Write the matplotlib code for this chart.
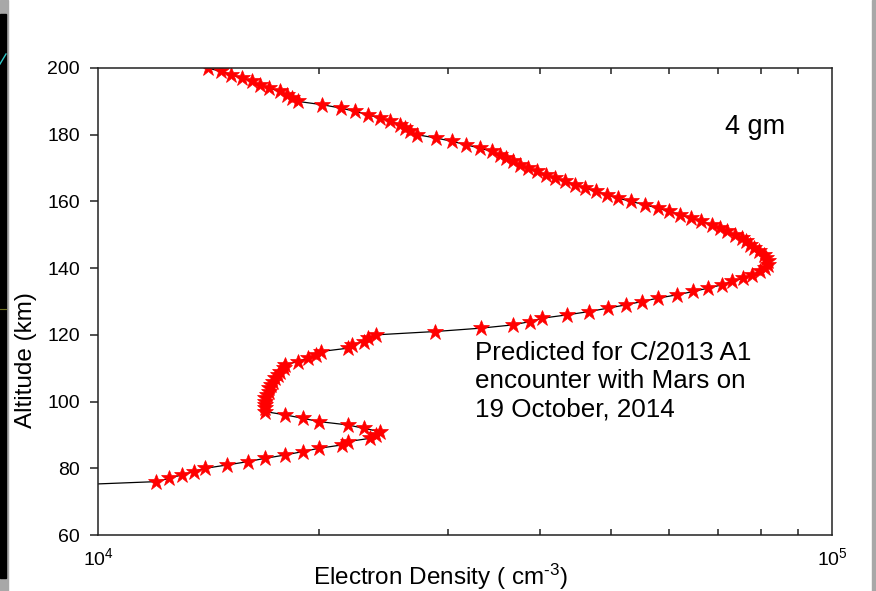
import numpy as np
import matplotlib.pyplot as plt
from matplotlib.patches import Rectangle
from matplotlib.lines import Line2D
from matplotlib.ticker import NullFormatter, LogLocator

plt.rcParams['font.family'] = ['Liberation Sans', 'DejaVu Sans']
plt.rcParams['mathtext.fontset'] = 'custom'
plt.rcParams['mathtext.rm'] = 'Liberation Sans'
plt.rcParams['mathtext.it'] = 'Liberation Sans:italic'
plt.rcParams['mathtext.bf'] = 'Liberation Sans:bold'

# altitude grid (km) and electron density (units of 1e4 cm^-3)
altitude_km = [
    75, 76, 77, 78, 79, 80, 81, 82, 83, 84,
    85, 86, 87, 88, 89, 90, 91, 92, 93, 94,
    95, 96, 97, 98, 99, 100, 101, 102, 103, 104,
    105, 106, 107, 108, 109, 110, 111, 112, 113, 114,
    115, 116, 117, 118, 119, 120, 121, 122, 123, 124,
    125, 126, 127, 128, 129, 130, 131, 132, 133, 134,
    135, 136, 137, 138, 139, 140, 141, 142, 143, 144,
    145, 146, 147, 148, 149, 150, 151, 152, 153, 154,
    155, 156, 157, 158, 159, 160, 161, 162, 163, 164,
    165, 166, 167, 168, 169, 170, 171, 172, 173, 174,
    175, 176, 177, 178, 179, 180, 181, 182, 183, 184,
    185, 186, 187, 188, 189, 190, 191, 192, 193, 194,
    195, 196, 197, 198, 199, 200,
]
density_e4 = [
    0.92, 1.20, 1.25, 1.30, 1.35, 1.40, 1.50, 1.60, 1.69, 1.80,
    1.90, 2.00, 2.15, 2.19, 2.35, 2.39, 2.42, 2.30, 2.19, 2.00,
    1.90, 1.80, 1.69, 1.69, 1.69, 1.69, 1.69, 1.70, 1.71, 1.71,
    1.72, 1.73, 1.74, 1.76, 1.77, 1.79, 1.80, 1.87, 1.93, 1.98,
    2.01, 2.19, 2.22, 2.30, 2.33, 2.39, 2.88, 3.32, 3.68, 3.88,
    4.03, 4.36, 4.67, 4.95, 5.24, 5.51, 5.79, 6.15, 6.47, 6.78,
    7.08, 7.31, 7.56, 7.78, 7.98, 8.10, 8.18, 8.18, 8.13, 8.08,
    7.95, 7.83, 7.73, 7.64, 7.54, 7.38, 7.19, 7.04, 6.86, 6.63,
    6.43, 6.21, 6.00, 5.79, 5.56, 5.32, 5.11, 4.94, 4.77, 4.61,
    4.47, 4.33, 4.19, 4.08, 3.96, 3.85, 3.76, 3.68, 3.60, 3.53,
    3.44, 3.31, 3.17, 3.04, 2.89, 2.72, 2.66, 2.62, 2.58, 2.50,
    2.42, 2.33, 2.24, 2.14, 2.02, 1.87, 1.84, 1.81, 1.77, 1.71,
    1.66, 1.62, 1.57, 1.52, 1.47, 1.41,
]

density = np.array(density_e4) * 1e4

W, H = 876, 591
fig = plt.figure(figsize=(W / 100, H / 100), dpi=100)
ax = fig.add_axes([98 / W, 1 - 535 / H, 734 / W, 467 / H])

ax.plot(density, altitude_km, color='black', lw=0.9,
        marker='*', ms=12, mfc='red', mec='red', mew=0.5)

ax.set_xscale('log')
ax.set_xlim(1e4, 1e5)
ax.set_ylim(60, 200)
ax.set_yticks(range(60, 201, 20))
ax.xaxis.set_minor_locator(LogLocator(base=10, subs=range(2, 10)))
ax.xaxis.set_minor_formatter(NullFormatter())

for side in ['left', 'bottom', 'top', 'right']:
    ax.spines[side].set_linewidth(1.1)
    ax.spines[side].set_color('#222222')

ax.tick_params(axis='y', which='major', direction='out', length=6, width=1.1,
               labelsize=14, pad=7, right=False, color='#222222')
ax.tick_params(axis='x', which='both', direction='in', top=True, bottom=True,
               width=1.1, color='#222222')
ax.tick_params(axis='x', which='major', length=0, labelsize=14, pad=9)
ax.tick_params(axis='x', which='minor', length=4.5)

ax.set_xlabel(r'Electron Density ( cm$^{\text{-}3}$)', fontsize=17.5)
ax.xaxis.set_label_coords((440 - 98) / 734, -0.057)
ax.set_ylabel('Altitude (km)', fontsize=17.5)
ax.yaxis.set_label_coords(-0.083, (535 - 360) / 467)

ax.text((725 - 98) / 734, (535 - 127) / 467, '4 gm', transform=ax.transAxes,
        fontsize=19.5, ha='left', va='center')
ax.text((475 - 98) / 734, (535 - 381) / 467,
        'Predicted for C/2013 A1\nencounter with Mars on\n19 October, 2014',
        transform=ax.transAxes, fontsize=18.7, ha='left', va='center',
        linespacing=1.22)

# window border strips around the plot
fig.add_artist(Rectangle((0, 0), 8 / W, 1, transform=fig.transFigure,
                         color='#a8a8a8', zorder=0))
fig.add_artist(Rectangle((0, 1 - 578 / H), 6 / W, 564 / H,
                         transform=fig.transFigure, color='black', zorder=1))
fig.add_artist(Rectangle((872 / W, 0), 4 / W, 1, transform=fig.transFigure,
                         color='#a8a8a8', zorder=0))
fig.add_artist(Line2D([0, 6 / W], [1 - 64 / H, 1 - 54 / H],
                      transform=fig.transFigure, color='#30c8c8', lw=1, zorder=2))
fig.add_artist(Line2D([0, 6 / W], [1 - 309 / H, 1 - 309 / H],
                      transform=fig.transFigure, color='#707020', lw=0.8, zorder=2))

fig.savefig('out.png', dpi=100)
